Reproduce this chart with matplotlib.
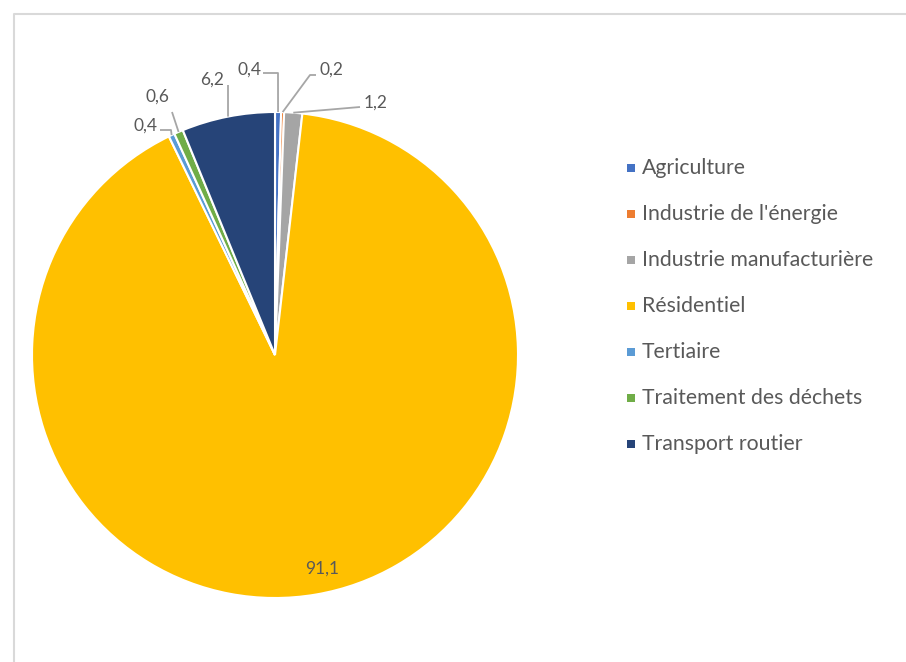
import numpy as np
import matplotlib.pyplot as plt
from matplotlib.patches import Rectangle

W, H = 906, 662

secteurs = ["Agriculture", "Industrie de l'énergie", "Industrie manufacturière",
            "Résidentiel", "Tertiaire", "Traitement des déchets", "Transport routier"]
parts = [0.4, 0.2, 1.2, 91.1, 0.4, 0.6, 6.2]
couleurs = ["#4472C4", "#ED7D31", "#A5A5A5", "#FFC000", "#5B9BD5", "#70AD47", "#264478"]

# label layout in pixels (text centre, elbow of the leader line or None)
lbl_pos = [(250, 70), (331, 70), (376, 103), (322, 569), (145, 126), (157, 97), (212, 80)]
lbl_elbow = [(278, 73), (310, 75), (360, 107), None, (171, 130), (172, 112), (228, 85)]
lbl_start = [(263, 73), (316, 75), (360, 107), None, (160, 130), (172, 112), (228, 85)]

cx, cy, r = 275, 355, 243
txt = "#595959"
plt.rcParams['font.family'] = ['Lato', 'DejaVu Sans']


def py(y):
    return H - y


fig = plt.figure(figsize=(W / 100, H / 100), dpi=100)
ax = fig.add_axes([0, 0, 1, 1])

wedges, _ = ax.pie(parts, colors=couleurs, startangle=90, counterclock=False,
                   center=(cx, py(cy)), radius=r,
                   wedgeprops=dict(edgecolor="white", linewidth=1.5))
ax.set_xlim(0, W)
ax.set_ylim(0, H)
ax.set_aspect("equal")
ax.axis("off")

for w, v, pos, elb, st in zip(wedges, parts, lbl_pos, lbl_elbow, lbl_start):
    lab = f"{v:.1f}".replace(".", ",")
    ax.text(pos[0], py(pos[1]), lab, ha="center", va="center", fontsize=12.5, color=txt)
    if elb is None:
        continue
    mid = np.radians((w.theta1 + w.theta2) / 2)
    ex, ey = cx + r * np.cos(mid), py(cy) + r * np.sin(mid)
    ax.plot([st[0], elb[0], ex], [py(st[1]), py(elb[1]), ey], color="#A6A6A6", lw=1.3,
            solid_capstyle="butt")

# legend
for i, (nom, c) in enumerate(zip(secteurs, couleurs)):
    y = 168 + 46 * i
    ax.add_patch(Rectangle((627, py(y) - 4), 8, 8, facecolor=c, edgecolor="none"))
    ax.text(642, py(y), nom, ha="left", va="center", fontsize=15.3, color=txt)

# chart frame
ax.plot([14, 14, W], [0, py(14), py(14)], color="#D9D9D9", lw=1.5, clip_on=False)

fig.savefig("out.png", dpi=100, facecolor="white")
